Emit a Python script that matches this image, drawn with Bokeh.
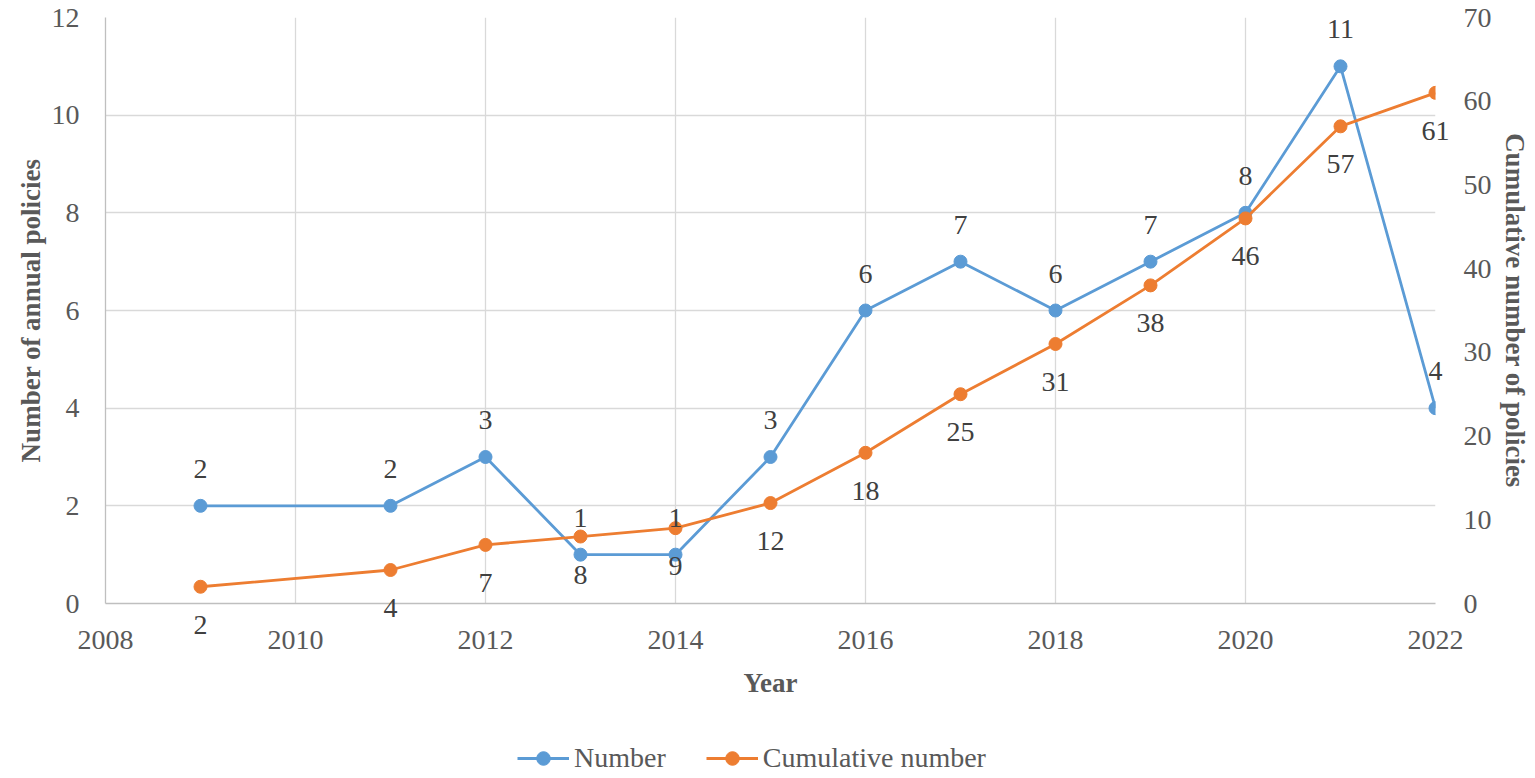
from bokeh.plotting import figure
from bokeh.layouts import column
from bokeh.models import (Range1d, LinearAxis, FixedTicker, ColumnDataSource,
                          Legend, LegendItem)
from bokeh.embed import file_html
from bokeh.resources import INLINE

years = [2009, 2011, 2012, 2013, 2014, 2015, 2016, 2017, 2018, 2019, 2020, 2021, 2022]
number = [2, 2, 3, 1, 1, 3, 6, 7, 6, 7, 8, 11, 4]
cumulative = [2, 4, 7, 8, 9, 12, 18, 25, 31, 38, 46, 57, 61]
x_ticks = [2008, 2010, 2012, 2014, 2016, 2018, 2020, 2022]
left_ticks = [0, 2, 4, 6, 8, 10, 12]
right_ticks = [0, 10, 20, 30, 40, 50, 60, 70]
series_names = ["Number", "Cumulative number"]

BLUE = "#5B9BD5"
ORANGE = "#ED7D31"
FONT = "Liberation Serif"
TICK_C = "#595959"
LABEL_C = "#404040"

src = ColumnDataSource(dict(x=years, n=number, c=cumulative,
                            nt=[str(v) for v in number],
                            ct=[str(v) for v in cumulative]))

p = figure(frame_width=1330, frame_height=586, output_backend="svg", toolbar_location=None,
           x_range=Range1d(2008, 2022), y_range=Range1d(0, 12),
           min_border_left=105, min_border_right=100, min_border_top=17,
           min_border_bottom=130)
p.extra_y_ranges = {"cum": Range1d(0, 70)}
p.outline_line_color = None
p.background_fill_color = "white"

p.xgrid.ticker = FixedTicker(ticks=x_ticks)
p.ygrid.ticker = FixedTicker(ticks=left_ticks)
p.xgrid.grid_line_color = "#d9d9d9"
p.ygrid.grid_line_color = "#d9d9d9"
p.xgrid.grid_line_width = 1.3
p.ygrid.grid_line_width = 1.3

def style_axis(ax, ticks):
    ax.ticker = FixedTicker(ticks=ticks)
    ax.major_tick_line_color = None
    ax.minor_tick_line_color = None
    ax.major_tick_out = 0
    ax.major_tick_in = 0
    ax.major_label_text_font = FONT
    ax.major_label_text_font_size = "28px"
    ax.major_label_text_color = TICK_C
    ax.axis_label_text_font = FONT
    ax.axis_label_text_font_size = "27px"
    ax.axis_label_text_font_style = "bold"
    ax.axis_label_text_color = TICK_C

xa = p.xaxis[0]
style_axis(xa, x_ticks)
xa.axis_label = "Year"
xa.axis_line_color = "#bfbfbf"
xa.axis_line_width = 1.3
xa.major_label_standoff = 27
xa.axis_label_standoff = 16

ya = p.yaxis[0]
style_axis(ya, left_ticks)
ya.axis_label = "Number of annual policies"
ya.axis_line_color = "#bfbfbf"
ya.axis_line_width = 1.3
ya.major_label_standoff = 26
ya.axis_label_standoff = 3

ra = LinearAxis(y_range_name="cum")
style_axis(ra, right_ticks)
ra.axis_label = "Cumulative number of policies"
ra.axis_line_color = None
ra.major_label_standoff = 28
ra.axis_label_standoff = 5
p.add_layout(ra, "right")

p.line("x", "n", source=src, line_color=BLUE, line_width=2.8)
p.scatter("x", "n", source=src, size=13, fill_color=BLUE, line_color=BLUE)
p.line("x", "c", source=src, line_color=ORANGE, line_width=2.8, y_range_name="cum")
p.scatter("x", "c", source=src, size=13, fill_color=ORANGE, line_color=ORANGE,
          y_range_name="cum")

p.text("x", "n", text="nt", source=src, y_offset=-37, level="overlay",
       text_align="center", text_baseline="middle",
       text_font=FONT, text_font_size="28px", text_color=LABEL_C)
p.text("x", "c", text="ct", source=src, y_offset=38, y_range_name="cum", level="overlay",
       text_align="center", text_baseline="middle",
       text_font=FONT, text_font_size="28px", text_color=LABEL_C)

# legend strip under the chart (its sample renderers lie outside its own view)
lg = figure(width=1535, height=45, output_backend="svg", toolbar_location=None,
            x_axis_location=None, y_axis_location=None,
            x_range=Range1d(0, 1), y_range=Range1d(0, 1),
            min_border_left=0, min_border_right=0, min_border_top=0, min_border_bottom=0)
lg.grid.visible = False
lg.outline_line_color = None
lsrc = ColumnDataSource(dict(x=years[:1], n=number[:1], c=cumulative[:1]))
lg1 = lg.line("x", "n", source=lsrc, line_color=BLUE, line_width=2.8)
lg2 = lg.scatter("x", "n", source=lsrc, size=13, fill_color=BLUE, line_color=BLUE)
lg3 = lg.line("x", "c", source=lsrc, line_color=ORANGE, line_width=2.8)
lg4 = lg.scatter("x", "c", source=lsrc, size=13, fill_color=ORANGE, line_color=ORANGE)
legend = Legend(items=[LegendItem(label=series_names[0], renderers=[lg1, lg2]),
                       LegendItem(label=series_names[1], renderers=[lg3, lg4])],
                orientation="horizontal", location=(412, 3),
                label_text_font=FONT, label_text_font_size="28px",
                label_text_color=TICK_C, glyph_width=52, glyph_height=34,
                label_height=34, label_standoff=5, spacing=40, padding=0, margin=0,
                border_line_color=None, background_fill_alpha=0)
lg.add_layout(legend, "center")

layout = column(p, lg, spacing=0)
open("out.html", "w").write(file_html(layout, INLINE))
